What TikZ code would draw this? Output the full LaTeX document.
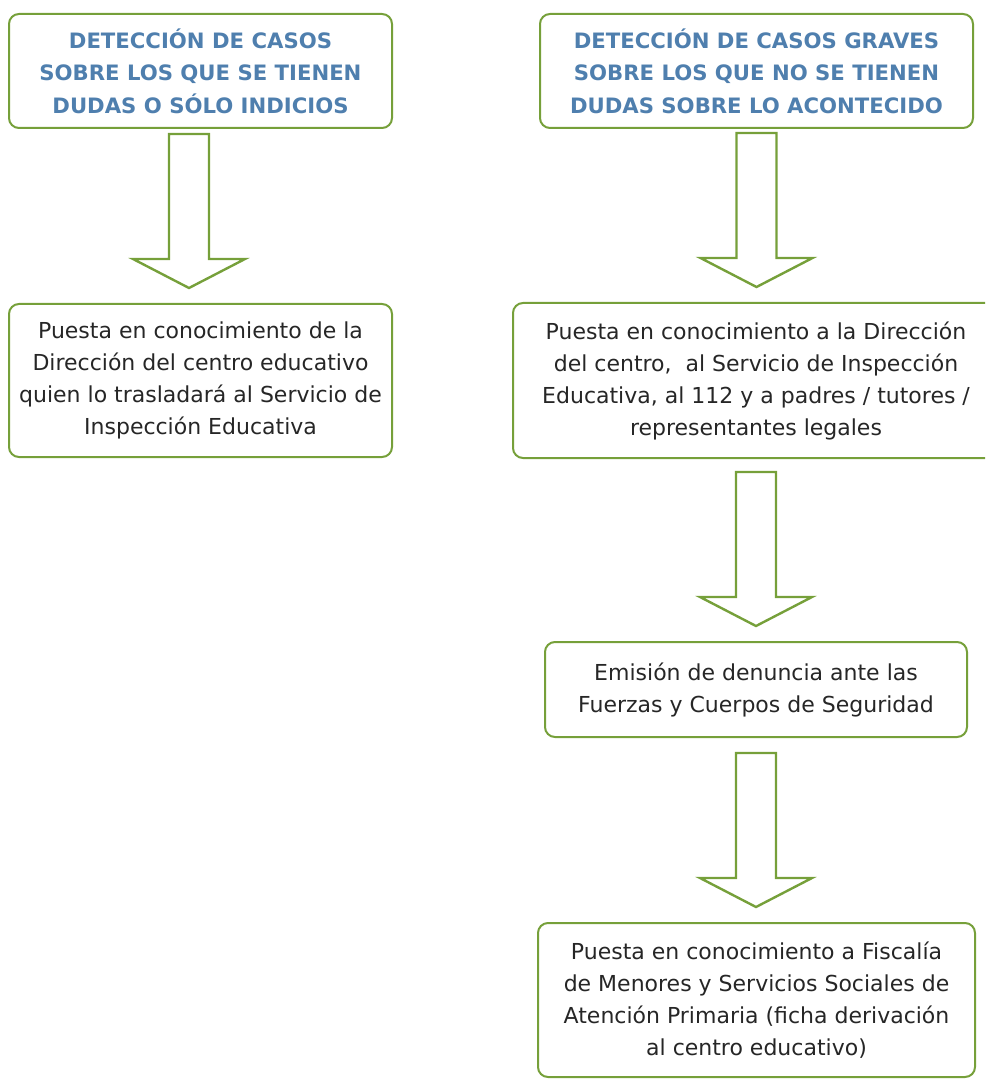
\documentclass[tikz,border=0pt]{standalone}
\usepackage{fontspec}
\setmainfont{DejaVu Sans}
\usetikzlibrary{calc}

\definecolor{verdecaja}{HTML}{76A03A}
\definecolor{azultitulo}{HTML}{4F7FAE}
\definecolor{textocaja}{HTML}{262626}

\tikzset{
  caja/.style={draw=verdecaja, line width=1pt, rounded corners=5pt, align=center,
    inner sep=0pt, text=textocaja, font=\fontsize{11}{16}\selectfont},
  titulo/.style={caja, text=azultitulo, font=\bfseries\fontsize{10.6}{16.2}\selectfont},
  flechaverde/.style={draw=verdecaja, line width=1.2pt, line join=miter},
}

% flecha hueca de #2 a #3, #1 desplaza en x
\newcommand{\flecha}[3][0pt]{%
  \draw[flechaverde] let \p1=($(#2.south)+(#1,0)$), \p2=($(#3.north)+(0,7.5)$) in
    (\x1-10,\y2+77) -- (\x1-10,\y2+14.5) -- (\x1-28,\y2+14.5) -- (\x1,\y2)
    -- (\x1+28,\y2+14.5) -- (\x1+10,\y2+14.5) -- (\x1+10,\y2+77) -- cycle;}

\begin{document}
\begin{tikzpicture}[x=1pt, y=1pt, line cap=round, line join=round]
	\useasboundingbox (0,0) rectangle (492.5,-539.5);
	\clip (0,0) rectangle (492.5,-539.5);
	% columna izquierda
	\node[titulo, minimum width=191.5, minimum height=57] (dudas) at (100.25,-35.5)
	  {DETECCIÓN DE CASOS\\SOBRE LOS QUE SE TIENEN\\DUDAS O SÓLO INDICIOS};
	\node[caja, minimum width=191.5, minimum height=76.5] (direccion) at (100.25,-190.25)
	  {Puesta en conocimiento de la\\Dirección del centro educativo\\quien lo trasladará al Servicio de\\Inspección Educativa};
	% columna derecha
	\node[titulo, minimum width=216.5, minimum height=57] (graves) at (378.25,-35.5)
	  {DETECCIÓN DE CASOS GRAVES\\SOBRE LOS QUE NO SE TIENEN\\DUDAS SOBRE LO ACONTECIDO};
	\node[caja, minimum width=243, minimum height=77.5] (aviso) at (378,-190.25)
	  {Puesta en conocimiento a la Dirección\\del centro, \ al Servicio de Inspección\\Educativa, al 112 y a padres / tutores /\\representantes legales};
	\node[caja, minimum width=211, minimum height=47.5] (denuncia) at (378,-344.75)
	  {Emisión de denuncia ante las\\Fuerzas y Cuerpos de Seguridad};
	\node[caja, minimum width=218.5, minimum height=77] (fiscalia) at (378.25,-500)
	  {Puesta en conocimiento a Fiscalía\\de Menores y Servicios Sociales de\\Atención Primaria (ficha derivación\\al centro educativo)};
	\flecha[-5.75]{dudas}{direccion}
	\flecha{graves}{aviso}
	\flecha{aviso}{denuncia}
	\flecha{denuncia}{fiscalia}
\end{tikzpicture}
\end{document}
